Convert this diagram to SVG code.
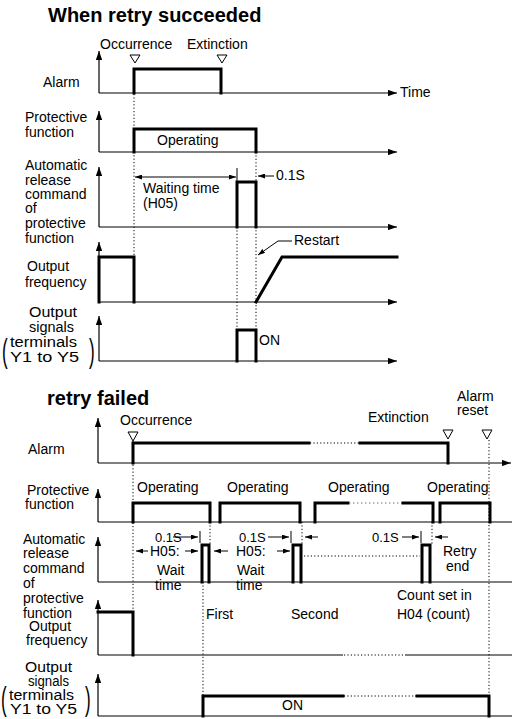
<svg xmlns="http://www.w3.org/2000/svg" width="513" height="719" viewBox="0 0 513 719">
<style>
text{font-family:"Liberation Sans",Arial,sans-serif;font-size:14px;fill:#000}
.b{font-weight:bold;font-size:20px}
.s{font-size:13px}
.ax{stroke:#000;stroke-width:1.2;fill:none}
.sig{stroke:#000;stroke-width:3;fill:none;stroke-linejoin:miter;stroke-linecap:square}
.dot{stroke:#000;stroke-width:1;fill:none;stroke-dasharray:1.2 2.2}
.ldot{stroke:#777;stroke-width:1;fill:none;stroke-dasharray:1.5 2.5}
.thin{stroke:#000;stroke-width:1;fill:none}
.tri{fill:#fff;stroke:#000;stroke-width:1}
.par{font-size:34px}
</style>
<defs>
<marker id="ah" viewBox="0 0 10 7" refX="10" refY="3.5" markerWidth="9" markerHeight="6.3" markerUnits="userSpaceOnUse" orient="auto-start-reverse"><path d="M0,0 L10,3.5 L0,7 z" fill="#000"/></marker>
<marker id="as" viewBox="0 0 10 7" refX="10" refY="3.5" markerWidth="7" markerHeight="5" markerUnits="userSpaceOnUse" orient="auto-start-reverse"><path d="M0,0 L10,3.5 L0,7 z" fill="#000"/></marker>
</defs>

<!-- ===== When retry succeeded ===== -->
<g id="title-top"><text class="b" x="48" y="22">When retry succeeded</text></g>

<g id="top-alarm">
<text x="100" y="49">Occurrence</text>
<text x="187" y="49">Extinction</text>
<text x="43" y="87">Alarm</text>
<line class="ax" x1="99" y1="93" x2="99" y2="51" marker-end="url(#ah)"/>
<line class="ax" x1="99" y1="93" x2="397" y2="93" marker-end="url(#ah)"/>
<text x="400" y="97">Time</text>
<polygon class="tri" points="130,55 140,55 135,63"/>
<polygon class="tri" points="217,55 227,55 222,63"/>
<path class="sig" d="M134,93 V69 H221 V93"/>
</g>

<g id="top-protective">
<text x="25" y="122">Protective</text>
<text x="25" y="137">function</text>
<line class="ax" x1="99" y1="152" x2="99" y2="111" marker-end="url(#ah)"/>
<line class="ax" x1="99" y1="152" x2="397" y2="152" marker-end="url(#ah)"/>
<path class="sig" d="M134,152 V129 H256 V152"/>
<text x="157" y="145">Operating</text>
</g>

<g id="top-release">
<text x="25" y="170">Automatic</text>
<text x="25" y="185">release</text>
<text x="25" y="199">command</text>
<text x="25" y="213">of</text>
<text x="25" y="228">protective</text>
<text x="25" y="243">function</text>
<line class="ax" x1="99" y1="227" x2="99" y2="167" marker-end="url(#ah)"/>
<line class="ax" x1="99" y1="227" x2="397" y2="227" marker-end="url(#ah)"/>
<line class="thin" x1="135" y1="177" x2="236" y2="177" marker-start="url(#as)" marker-end="url(#as)"/>
<line class="thin" x1="237" y1="168" x2="237" y2="182"/>
<text x="143" y="193">Waiting time</text>
<text x="143" y="208">(H05)</text>
<path class="sig" d="M237,227 V182 H256 V227"/>
<line class="thin" x1="274" y1="176" x2="258" y2="176" marker-end="url(#as)"/>
<text x="276" y="180">0.1S</text>
</g>

<g id="top-frequency">
<text x="27" y="271">Output</text>
<text x="25" y="287">frequency</text>
<line class="ax" x1="99" y1="302" x2="99" y2="242" marker-end="url(#ah)"/>
<line class="ax" x1="99" y1="302" x2="397" y2="302" marker-end="url(#ah)"/>
<path class="sig" d="M99,302 V257 H134 V302"/>
<path class="sig" d="M256,302 L282,257 H397"/>
<path class="thin" d="M292,241 H278 L258,255" marker-end="url(#as)"/>
<text x="294" y="245">Restart</text>
</g>

<g id="top-output">
<text x="29" y="317" textLength="48" lengthAdjust="spacingAndGlyphs">Output</text>
<text x="29" y="332" textLength="45" lengthAdjust="spacingAndGlyphs">signals</text>
<text x="10" y="347" textLength="67" lengthAdjust="spacingAndGlyphs">terminals</text>
<text x="10" y="362" textLength="69" lengthAdjust="spacingAndGlyphs">Y1 to Y5</text>
<text class="par" transform="translate(2,362) scale(0.5,1)">(</text>
<text class="par" transform="translate(89,362) scale(0.5,1)">)</text>
<line class="ax" x1="99" y1="361" x2="99" y2="316" marker-end="url(#ah)"/>
<line class="ax" x1="99" y1="361" x2="397" y2="361" marker-end="url(#ah)"/>
<path class="sig" d="M237,361 V330 H256 V361"/>
<text x="259" y="345">ON</text>
</g>

<g id="top-guides">
<path class="dot" d="M134,94 V257"/>
<path class="dot" d="M237,227 V330"/>
<path class="dot" d="M256,152 V330"/>
</g>

<!-- ===== retry failed ===== -->
<g id="title-bottom"><text class="b" x="47" y="405">retry failed</text></g>

<g id="bot-alarm">
<text x="120" y="425">Occurrence</text>
<text x="368" y="422">Extinction</text>
<text x="457" y="401">Alarm</text>
<text x="457" y="415">reset</text>
<text x="28" y="454">Alarm</text>
<line class="ax" x1="98" y1="463" x2="98" y2="418" marker-end="url(#ah)"/>
<line class="ax" x1="98" y1="463" x2="511" y2="463" marker-end="url(#ah)"/>
<polygon class="tri" points="128,432 138,432 133,441"/>
<polygon class="tri" points="443,430 453,430 448,439"/>
<polygon class="tri" points="482,430 492,430 487,439"/>
<path class="sig" d="M133,463 V443 H309"/>
<path class="dot" d="M310,443 H359"/>
<path class="sig" d="M360,443 H448 V463"/>
</g>

<g id="bot-protective">
<text x="27" y="495">Protective</text>
<text x="25" y="509">function</text>
<text x="137" y="492">Operating</text>
<text x="227" y="492">Operating</text>
<text x="328" y="492">Operating</text>
<text x="427" y="492">Operating</text>
<line class="ax" x1="98" y1="522" x2="98" y2="489" marker-end="url(#ah)"/>
<line class="ax" x1="98" y1="522" x2="512" y2="522"/>
<path class="sig" d="M133,522 V503 H210 V522"/>
<path class="sig" d="M220,522 V503 H300 V522"/>
<path class="sig" d="M315,522 V503 H348"/>
<path class="ldot" d="M349,503 H402"/>
<path class="sig" d="M403,503 H433 V522"/>
<path class="sig" d="M440,522 V503 H490 V522"/>
</g>

<g id="bot-release">
<text x="23" y="544">Automatic</text>
<text x="23" y="558">release</text>
<text x="23" y="573">command</text>
<text x="23" y="588">of</text>
<text x="23" y="603">protective</text>
<text x="23" y="618">function</text>
<line class="ax" x1="98" y1="582" x2="98" y2="537" marker-end="url(#ah)"/>
<line class="ax" x1="98" y1="582" x2="512" y2="582"/>
<path class="sig" d="M202,582 V545 H209 V582"/>
<path class="sig" d="M293,582 V545 H301 V582"/>
<path class="sig" d="M422,582 V545 H430 V582"/>
<path class="dot" d="M304,556 H420"/>
<text class="s" x="155" y="542">0.1S</text>
<line class="thin" x1="173" y1="537" x2="198" y2="537" marker-end="url(#as)"/>
<line class="thin" x1="200" y1="531" x2="200" y2="543"/>
<text class="s" x="239" y="542">0.1S</text>
<line class="thin" x1="268" y1="537" x2="289" y2="537" marker-end="url(#as)"/>
<line class="thin" x1="291" y1="531" x2="291" y2="543"/>
<line class="thin" x1="318" y1="537" x2="305" y2="537" marker-end="url(#as)"/>
<text class="s" x="372" y="542">0.1S</text>
<line class="thin" x1="402" y1="537" x2="419" y2="537" marker-end="url(#as)"/>
<line class="thin" x1="421" y1="531" x2="421" y2="543"/>
<line class="thin" x1="448" y1="537" x2="435" y2="537" marker-end="url(#as)"/>
<line class="thin" x1="148" y1="551" x2="136" y2="551" marker-end="url(#as)"/>
<text x="150" y="556">H05:</text>
<line class="thin" x1="185" y1="551" x2="198" y2="551" marker-end="url(#as)"/>
<line class="thin" x1="228" y1="551" x2="214" y2="551" marker-end="url(#as)"/>
<text x="236" y="556">H05:</text>
<line class="thin" x1="277" y1="551" x2="290" y2="551" marker-end="url(#as)"/>
<text x="157" y="575">Wait</text>
<text x="155" y="590">time</text>
<text x="237" y="575">Wait</text>
<text x="236" y="590">time</text>
<text x="443" y="556">Retry</text>
<text x="446" y="571">end</text>
<text x="397" y="600">Count set in</text>
<text x="397" y="619">H04 (count)</text>
<text x="206" y="619">First</text>
<text x="291" y="619">Second</text>
</g>

<g id="bot-frequency">
<text x="29" y="631">Output</text>
<text x="26" y="645">frequency</text>
<line class="ax" x1="98" y1="655" x2="98" y2="600" marker-end="url(#ah)"/>
<path class="ax" d="M98,655 H343"/>
<path class="dot" d="M344,655 H404"/>
<path class="ax" d="M405,655 H512"/>
<path class="sig" d="M98,612 H133 V655"/>
</g>

<g id="bot-output">
<text x="25" y="672" textLength="47" lengthAdjust="spacingAndGlyphs">Output</text>
<text x="28" y="686" textLength="41" lengthAdjust="spacingAndGlyphs">signals</text>
<text x="9" y="700" textLength="65" lengthAdjust="spacingAndGlyphs">terminals</text>
<text x="10" y="714" textLength="67" lengthAdjust="spacingAndGlyphs">Y1 to Y5</text>
<text class="par" transform="translate(1,710) scale(0.5,1)">(</text>
<text class="par" transform="translate(85,710) scale(0.5,1)">)</text>
<line class="ax" x1="98" y1="716" x2="98" y2="674" marker-end="url(#ah)"/>
<line class="ax" x1="98" y1="716" x2="512" y2="716"/>
<path class="sig" d="M203,716 V696 H343"/>
<path class="dot" d="M344,696 H416"/>
<path class="sig" d="M417,696 H489 V716"/>
<text x="282" y="710">ON</text>
</g>

<g id="bot-guides">
<path class="dot" d="M133,441 V612"/>
<path class="dot" d="M203,582 V696"/>
<path class="dot" d="M210,522 V545"/>
<path class="dot" d="M302,522 V545"/>
<path class="dot" d="M432,522 V545"/>
<path class="dot" d="M489,440 V716"/>
</g>
</svg>
